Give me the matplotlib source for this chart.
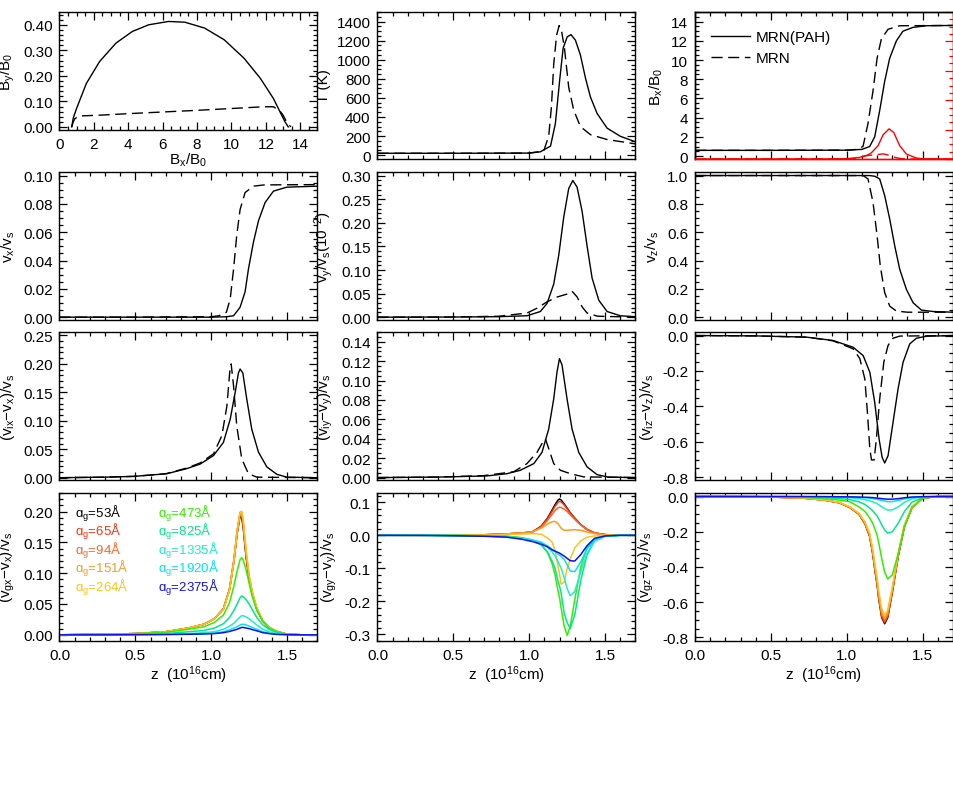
import matplotlib
matplotlib.use("Agg")
import matplotlib.pyplot as plt
from matplotlib.ticker import MultipleLocator, FormatStrFormatter, NullFormatter

plt.rcParams['font.family'] = ['Liberation Sans', 'DejaVu Sans']
plt.rcParams['mathtext.fontset'] = 'custom'
plt.rcParams['mathtext.rm'] = 'Liberation Sans'
plt.rcParams['mathtext.it'] = 'Liberation Sans:italic'
plt.rcParams['mathtext.bf'] = 'Liberation Sans:bold'
plt.rcParams['font.size'] = 11

# ---------------- data ----------------
# top-left: By/B0 vs Bx/B0
bx_pah = [0.71, 0.80, 0.99, 1.56, 2.33, 3.28, 4.24, 5.19, 6.34, 7.29, 8.44, 9.58, 10.73, 11.68, 12.44, 12.82, 13.11, 13.30]
by_pah = [0.0, 0.035, 0.072, 0.17, 0.256, 0.328, 0.374, 0.40, 0.413, 0.41, 0.387, 0.341, 0.269, 0.19, 0.111, 0.059, 0.02, 0.0]
bx_mrn = [0.71, 0.80, 0.90, 1.18, 2.33, 4.0, 6.15, 8.0, 9.96, 11.87, 12.44, 12.82, 13.0, 13.2, 13.45]
by_mrn = [0.0, 0.02, 0.033, 0.043, 0.046, 0.052, 0.059, 0.065, 0.072, 0.079, 0.079, 0.062, 0.046, 0.02, 0.0]

# temperature
zT_pah = [0, 0.5, 1.0, 1.073, 1.14, 1.172, 1.2, 1.223, 1.25, 1.275, 1.304, 1.337, 1.37, 1.403, 1.447, 1.513, 1.6, 1.7]
T_pah = [20, 20, 22, 35, 95, 330, 780, 1120, 1240, 1263, 1205, 1050, 810, 610, 437, 283, 198, 140]
zT_mrn = [0, 0.5, 1.0, 1.095, 1.128, 1.146, 1.161, 1.18, 1.197, 1.214, 1.232, 1.26, 1.293, 1.337, 1.403, 1.513, 1.7]
T_mrn = [20, 20, 22, 44, 198, 505, 950, 1256, 1358, 1290, 1120, 710, 471, 300, 215, 164, 118]

# Bx/B0 (black) and By/B0 (red, right axis)
zB_pah = [0, 0.5, 1.0, 1.1, 1.151, 1.184, 1.217, 1.25, 1.283, 1.327, 1.37, 1.436, 1.524, 1.7]
B_pah = [0.6, 0.6, 0.62, 0.7, 1.0, 2.0, 4.75, 7.8, 10.2, 12.0, 13.0, 13.4, 13.57, 13.6]
zB_mrn = [0, 0.5, 1.0, 1.07, 1.107, 1.14, 1.173, 1.2, 1.228, 1.272, 1.349, 1.7]
B_mrn = [0.6, 0.6, 0.62, 0.7, 1.0, 3.4, 6.8, 10.2, 12.2, 13.2, 13.57, 13.6]
zBy_pah = [0, 0.9, 1.0, 1.08, 1.129, 1.16, 1.206, 1.24, 1.279, 1.31, 1.349, 1.393, 1.458, 1.5, 1.7]
By_pah = [0, 0.001, 0.005, 0.02, 0.045, 0.08, 0.18, 0.33, 0.41, 0.36, 0.18, 0.067, 0.013, 0.003, 0]
zBy_mrn = [0, 1.0, 1.08, 1.12, 1.18, 1.24, 1.28, 1.32, 1.36, 1.4, 1.7]
By_mrn = [0, 0.002, 0.01, 0.045, 0.055, 0.07, 0.05, 0.02, 0.005, 0, 0]

# neutral velocities
zvx_pah = [0, 0.5, 1.0, 1.1, 1.147, 1.19, 1.223, 1.245, 1.278, 1.311, 1.355, 1.41, 1.498, 1.7]
vx_pah = [0, 0, 0, 0.0003, 0.001, 0.007, 0.018, 0.034, 0.053, 0.068, 0.081, 0.089, 0.0918, 0.0925]
zvx_mrn = [0, 0.5, 1.0, 1.05, 1.1, 1.125, 1.147, 1.168, 1.19, 1.223, 1.278, 1.35, 1.7]
vx_mrn = [0, 0, 0.0003, 0.001, 0.0035, 0.013, 0.034, 0.058, 0.076, 0.088, 0.0925, 0.0934, 0.0936]

zvy_pah = [0, 0.5, 0.8, 0.985, 1.073, 1.117, 1.161, 1.194, 1.227, 1.26, 1.287, 1.315, 1.348, 1.381, 1.414, 1.458, 1.513, 1.6, 1.7]
vy_pah = [0, 0.0003, 0.001, 0.003, 0.012, 0.029, 0.07, 0.131, 0.212, 0.273, 0.29, 0.276, 0.225, 0.151, 0.083, 0.036, 0.012, 0.003, 0.001]
zvy_mrn = [0, 0.5, 0.8, 0.985, 1.051, 1.117, 1.183, 1.249, 1.282, 1.315, 1.348, 1.381, 1.45, 1.7]
vy_mrn = [0, 0.0003, 0.002, 0.0088, 0.019, 0.0325, 0.0427, 0.049, 0.055, 0.043, 0.022, 0.0088, 0.002, 0]

zvz_pah = [0, 1.0, 1.15, 1.184, 1.217, 1.25, 1.283, 1.316, 1.349, 1.393, 1.437, 1.492, 1.568, 1.7]
vz_pah = [1.0, 1.0, 1.0, 0.995, 0.976, 0.858, 0.693, 0.504, 0.338, 0.196, 0.102, 0.05, 0.04, 0.035]
zvz_mrn = [0, 1.0, 1.108, 1.14, 1.173, 1.2, 1.221, 1.25, 1.283, 1.327, 1.4, 1.7]
vz_mrn = [1.0, 1.0, 1.0, 0.976, 0.81, 0.574, 0.36, 0.173, 0.078, 0.043, 0.035, 0.035]

# ion-neutral drift
zvix_pah = [0, 0.3, 0.488, 0.707, 0.839, 0.927, 1.015, 1.08, 1.125, 1.157, 1.179, 1.19, 1.208, 1.234, 1.267, 1.311, 1.366, 1.432, 1.498, 1.7]
vix_pah = [0, 0.001, 0.0023, 0.007, 0.016, 0.024, 0.039, 0.062, 0.103, 0.149, 0.184, 0.191, 0.184, 0.138, 0.085, 0.045, 0.019, 0.006, 0.001, 0]
zvix_mrn = [0, 0.3, 0.5, 0.7, 0.839, 0.927, 1.015, 1.07, 1.103, 1.125, 1.131, 1.147, 1.168, 1.201, 1.245, 1.3, 1.7]
vix_mrn = [0, 0.001, 0.0025, 0.007, 0.017, 0.026, 0.042, 0.074, 0.126, 0.196, 0.2, 0.161, 0.091, 0.033, 0.007, 0.001, 0]

zviy_pah = [0, 0.4, 0.721, 0.853, 0.941, 1.03, 1.084, 1.128, 1.161, 1.183, 1.199, 1.216, 1.249, 1.282, 1.326, 1.381, 1.447, 1.52, 1.7]
viy_pah = [0, 0.0005, 0.0017, 0.004, 0.0075, 0.0144, 0.026, 0.05, 0.081, 0.109, 0.1225, 0.116, 0.081, 0.05, 0.026, 0.011, 0.003, 0.0005, 0]
zviy_mrn = [0, 0.4, 0.7, 0.897, 0.985, 1.051, 1.095, 1.106, 1.128, 1.161, 1.205, 1.271, 1.359, 1.7]
viy_mrn = [0, 0.0005, 0.002, 0.006, 0.0144, 0.026, 0.038, 0.040, 0.03, 0.0144, 0.0075, 0.004, 0.0007, 0]

zviz_pah = [0, 0.4, 0.735, 0.91, 1.042, 1.108, 1.152, 1.184, 1.213, 1.233, 1.25, 1.272, 1.305, 1.338, 1.371, 1.415, 1.459, 1.524, 1.7]
viz_pah = [0, -0.002, -0.009, -0.028, -0.066, -0.113, -0.207, -0.376, -0.584, -0.687, -0.719, -0.678, -0.489, -0.301, -0.151, -0.047, -0.015, -0.004, 0]
zviz_mrn = [0, 0.4, 0.735, 0.91, 1.042, 1.086, 1.119, 1.136, 1.152, 1.163, 1.18, 1.195, 1.217, 1.244, 1.272, 1.305, 1.35, 1.7]
viz_mrn = [0, -0.002, -0.009, -0.03, -0.075, -0.13, -0.245, -0.433, -0.64, -0.702, -0.702, -0.584, -0.358, -0.151, -0.056, -0.015, -0.003, 0]

# grain-neutral drift (common z grid)
grain_sizes = ["53", "65", "94", "151", "264", "473", "825", "1335", "1920", "2375"]
zg = [0.0, 0.3, 0.5, 0.7, 0.85, 0.95, 1.02, 1.08, 1.12, 1.15, 1.17, 1.19, 1.2, 1.21, 1.23, 1.25, 1.27, 1.3, 1.34, 1.38, 1.43, 1.5, 1.6, 1.7]

vgx_53 = [0, 0.001, 0.002, 0.005, 0.011, 0.017, 0.026, 0.042, 0.073, 0.12, 0.163, 0.193, 0.19, 0.175, 0.125, 0.09, 0.067, 0.041, 0.022, 0.012, 0.0055, 0.001, 0, 0]
vgx_65 = [0, 0.001, 0.002, 0.005, 0.011, 0.017, 0.026, 0.042, 0.074, 0.122, 0.166, 0.196, 0.194, 0.178, 0.127, 0.091, 0.068, 0.042, 0.022, 0.012, 0.0055, 0.001, 0, 0]
vgx_94 = [0, 0.001, 0.002, 0.005, 0.011, 0.017, 0.026, 0.042, 0.074, 0.123, 0.168, 0.198, 0.197, 0.181, 0.129, 0.092, 0.068, 0.042, 0.022, 0.012, 0.0055, 0.001, 0, 0]
vgx_151 = [0, 0.001, 0.002, 0.005, 0.011, 0.017, 0.026, 0.042, 0.074, 0.123, 0.169, 0.199, 0.2, 0.185, 0.132, 0.094, 0.069, 0.043, 0.023, 0.012, 0.0055, 0.001, 0, 0]
vgx_264 = [0, 0.001, 0.002, 0.005, 0.011, 0.017, 0.026, 0.041, 0.072, 0.12, 0.166, 0.197, 0.2, 0.188, 0.137, 0.097, 0.071, 0.044, 0.023, 0.012, 0.0055, 0.001, 0, 0]
vgx_473 = [0, 0.001, 0.002, 0.004, 0.009, 0.013, 0.02, 0.032, 0.052, 0.08, 0.103, 0.122, 0.125, 0.122, 0.105, 0.083, 0.062, 0.04, 0.022, 0.011, 0.005, 0.001, 0, 0]
vgx_825 = [0, 0.0005, 0.001, 0.002, 0.005, 0.007, 0.011, 0.018, 0.028, 0.04, 0.05, 0.06, 0.063, 0.062, 0.057, 0.05, 0.041, 0.028, 0.016, 0.009, 0.004, 0.001, 0, 0]
vgx_1335 = [0, 0, 0.0005, 0.001, 0.002, 0.0035, 0.005, 0.009, 0.014, 0.019, 0.024, 0.029, 0.031, 0.031, 0.029, 0.026, 0.022, 0.016, 0.009, 0.005, 0.002, 0.0005, 0, 0]
vgx_1920 = [0, 0, 0.0003, 0.0007, 0.0012, 0.002, 0.003, 0.005, 0.008, 0.011, 0.013, 0.016, 0.017, 0.017, 0.016, 0.014, 0.012, 0.009, 0.005, 0.003, 0.001, 0.0003, 0, 0]
vgx_2375 = [0, 0, 0.0002, 0.0005, 0.0009, 0.0014, 0.002, 0.0035, 0.0055, 0.0075, 0.009, 0.011, 0.012, 0.012, 0.011, 0.01, 0.0085, 0.0065, 0.0035, 0.002, 0.0007, 0.0002, 0, 0]

vgy_53 = [0, 0, 0.0005, 0.0015, 0.004, 0.007, 0.01, 0.028, 0.052, 0.076, 0.093, 0.107, 0.11, 0.107, 0.095, 0.082, 0.068, 0.052, 0.032, 0.018, 0.007, 0.002, 0, 0]
vgy_65 = [0, 0, 0.0005, 0.0015, 0.004, 0.007, 0.01, 0.027, 0.05, 0.072, 0.088, 0.1, 0.103, 0.101, 0.092, 0.08, 0.067, 0.051, 0.032, 0.018, 0.007, 0.002, 0, 0]
vgy_94 = [0, 0, 0.0005, 0.0015, 0.004, 0.007, 0.01, 0.025, 0.045, 0.063, 0.075, 0.083, 0.085, 0.084, 0.079, 0.072, 0.062, 0.048, 0.031, 0.017, 0.007, 0.002, 0, 0]
vgy_151 = [0, 0, 0.0005, 0.0015, 0.004, 0.007, 0.01, 0.022, 0.034, 0.041, 0.042, 0.035, 0.028, 0.021, 0.015, 0.015, 0.016, 0.017, 0.015, 0.01, 0.005, 0.001, 0, 0]
vgy_264 = [0, 0, 0, 0.0005, 0.002, 0.004, 0.005, 0.003, -0.008, -0.02, -0.045, -0.095, -0.118, -0.148, -0.142, -0.1, -0.072, -0.038, -0.017, -0.006, -0.002, 0, 0, 0]
vgy_473 = [0, 0, -0.0005, -0.0012, -0.0025, -0.007, -0.014, -0.029, -0.052, -0.085, -0.12, -0.17, -0.19, -0.22, -0.275, -0.303, -0.275, -0.195, -0.095, -0.038, -0.013, -0.002, 0, 0]
vgy_825 = [0, 0, -0.0005, -0.0015, -0.004, -0.008, -0.015, -0.03, -0.05, -0.078, -0.1, -0.14, -0.155, -0.175, -0.235, -0.265, -0.282, -0.24, -0.135, -0.06, -0.017, -0.003, 0, 0]
vgy_1335 = [0, 0, -0.001, -0.002, -0.005, -0.009, -0.014, -0.021, -0.035, -0.05, -0.062, -0.08, -0.09, -0.1, -0.128, -0.162, -0.183, -0.17, -0.11, -0.055, -0.017, -0.003, 0, 0]
vgy_1920 = [0, 0, -0.001, -0.002, -0.006, -0.01, -0.015, -0.022, -0.032, -0.042, -0.05, -0.057, -0.06, -0.064, -0.073, -0.09, -0.108, -0.11, -0.08, -0.042, -0.014, -0.003, 0, 0]
vgy_2375 = [0, -0.0005, -0.0015, -0.003, -0.0055, -0.012, -0.019, -0.027, -0.035, -0.044, -0.048, -0.052, -0.054, -0.057, -0.063, -0.07, -0.077, -0.078, -0.058, -0.032, -0.009, -0.002, 0, 0]

vgz_53 = [0, -0.001, -0.003, -0.008, -0.02, -0.035, -0.062, -0.1, -0.155, -0.223, -0.32, -0.445, -0.5, -0.575, -0.687, -0.722, -0.687, -0.545, -0.335, -0.17, -0.062, -0.009, 0, 0]
vgz_65 = [0, -0.001, -0.003, -0.008, -0.02, -0.035, -0.062, -0.1, -0.154, -0.221, -0.315, -0.44, -0.495, -0.569, -0.68, -0.714, -0.68, -0.54, -0.332, -0.168, -0.061, -0.009, 0, 0]
vgz_94 = [0, -0.001, -0.003, -0.008, -0.02, -0.035, -0.061, -0.099, -0.152, -0.218, -0.31, -0.434, -0.489, -0.562, -0.671, -0.705, -0.672, -0.534, -0.328, -0.166, -0.06, -0.009, 0, 0]
vgz_151 = [0, -0.001, -0.003, -0.008, -0.02, -0.034, -0.06, -0.097, -0.149, -0.213, -0.303, -0.424, -0.478, -0.55, -0.657, -0.69, -0.658, -0.523, -0.322, -0.163, -0.059, -0.009, 0, 0]
vgz_264 = [0, -0.001, -0.003, -0.008, -0.019, -0.033, -0.058, -0.094, -0.144, -0.206, -0.294, -0.41, -0.462, -0.532, -0.635, -0.672, -0.645, -0.515, -0.318, -0.161, -0.058, -0.009, 0, 0]
vgz_473 = [0, 0, -0.002, -0.005, -0.011, -0.02, -0.03, -0.058, -0.085, -0.12, -0.15, -0.195, -0.22, -0.26, -0.35, -0.43, -0.468, -0.445, -0.32, -0.17, -0.065, -0.009, 0, 0]
vgz_825 = [0, 0, -0.001, -0.003, -0.006, -0.011, -0.018, -0.03, -0.045, -0.065, -0.08, -0.1, -0.11, -0.125, -0.16, -0.19, -0.208, -0.2, -0.15, -0.085, -0.032, -0.006, 0, 0]
vgz_1335 = [0, 0, -0.0005, -0.001, -0.002, -0.004, -0.007, -0.012, -0.018, -0.025, -0.03, -0.037, -0.041, -0.046, -0.058, -0.069, -0.077, -0.076, -0.058, -0.033, -0.012, -0.002, 0, 0]
vgz_1920 = [0, 0, 0, -0.0005, -0.001, -0.002, -0.003, -0.005, -0.007, -0.009, -0.011, -0.014, -0.016, -0.018, -0.022, -0.026, -0.029, -0.029, -0.022, -0.013, -0.005, -0.001, 0, 0]
vgz_2375 = [0, 0, 0, -0.0003, -0.0007, -0.0015, -0.002, -0.003, -0.004, -0.005, -0.006, -0.008, -0.009, -0.01, -0.012, -0.014, -0.015, -0.015, -0.012, -0.007, -0.003, -0.001, 0, 0]

vgx_all = [vgx_53, vgx_65, vgx_94, vgx_151, vgx_264, vgx_473, vgx_825, vgx_1335, vgx_1920, vgx_2375]
vgy_all = [vgy_53, vgy_65, vgy_94, vgy_151, vgy_264, vgy_473, vgy_825, vgy_1335, vgy_1920, vgy_2375]
vgz_all = [vgz_53, vgz_65, vgz_94, vgz_151, vgz_264, vgz_473, vgz_825, vgz_1335, vgz_1920, vgz_2375]

# ---------------- styling ----------------
grain_colors = ['#000000', '#ff3010', '#ff6420', '#ff9a1a', '#ffc21a',
                '#33ee00', '#00e88a', '#19f0c8', '#00e0ff', '#1010e6']
LW = 1.0
DASH = (0, (8, 4))

W, H = 954, 803
fig = plt.figure(figsize=(W / 100, H / 100), dpi=100)


def add(l, t, r, b):
    return fig.add_axes([l / W, 1 - b / H, (r - l) / W, (b - t) / H])


def style(ax, xmaj, xmin, ymaj, ymin, yfmt, xlabels=False, xfmt='%.1f', right=True):
    ax.xaxis.set_major_locator(MultipleLocator(xmaj))
    ax.xaxis.set_minor_locator(MultipleLocator(xmin))
    ax.yaxis.set_major_locator(MultipleLocator(ymaj))
    ax.yaxis.set_minor_locator(MultipleLocator(ymin))
    ax.yaxis.set_major_formatter(FormatStrFormatter(yfmt))
    if xlabels:
        ax.xaxis.set_major_formatter(FormatStrFormatter(xfmt))
    else:
        ax.xaxis.set_major_formatter(NullFormatter())
    ax.tick_params(which='both', direction='in', top=True, right=right, width=0.9)
    ax.tick_params(which='major', length=6, pad=5)
    ax.tick_params(which='minor', length=3)
    for sp in ax.spines.values():
        sp.set_linewidth(1.0)


C1, C2, C3 = (59.5, 317.5), (377.5, 635.5), (695, 953)
R1, R2, R3, R4 = (13, 160), (173, 321), (333, 481), (494, 642)
ZLAB = r"z  (10$^{16}$cm)"

# --- row 1 ---
ax = add(C1[0], 13, C1[1], 131)
ax.plot(bx_pah, by_pah, color='k', lw=LW)
ax.plot(bx_mrn, by_mrn, color='k', lw=LW, linestyle=DASH)
ax.set_xlim(0, 15)
ax.set_ylim(-0.012, 0.45)
style(ax, 2, 0.5, 0.1, 0.02, '%.2f', xlabels=True, xfmt='%d')
ax.set_xlabel(r"B$_{\rm x}$/B$_0$", labelpad=0)
ax.set_ylabel(r"B$_{\rm y}$/B$_0$")

ax = add(C2[0], R1[0], C2[1], R1[1])
ax.plot(zT_pah, T_pah, color='k', lw=LW)
ax.plot(zT_mrn, T_mrn, color='k', lw=LW, linestyle=DASH)
ax.set_xlim(0, 1.7)
ax.set_ylim(-40, 1500)
style(ax, 0.5, 0.1, 200, 50, '%d')
ax.set_ylabel("T (K)")

ax = add(C3[0], R1[0], C3[1], R1[1])
ax.plot(zB_pah, B_pah, color='k', lw=LW, label='MRN(PAH)')
ax.plot(zB_mrn, B_mrn, color='k', lw=LW, linestyle=DASH, label='MRN')
ax.set_xlim(0, 1.7)
ax.set_ylim(-0.3, 15)
style(ax, 0.5, 0.1, 2, 0.5, '%d', right=False)
ax.set_ylabel(r"B$_{\rm x}$/B$_0$")
ax.legend(loc='upper left', bbox_to_anchor=(0.025, 0.94), frameon=False,
          handlelength=2.6, handletextpad=0.35, labelspacing=0.45, borderaxespad=0.2)
axr = ax.twinx()
axr.plot(zBy_pah, By_pah, color='red', lw=LW)
axr.plot(zBy_mrn, By_mrn, color='red', lw=LW, linestyle=DASH)
axr.set_ylim(0, 2)
axr.yaxis.set_major_locator(MultipleLocator(0.4))
axr.yaxis.set_minor_locator(MultipleLocator(0.1))
axr.tick_params(which='both', direction='in', colors='red', labelright=False, width=0.9)
axr.tick_params(which='major', length=6)
axr.tick_params(which='minor', length=3)
for a in (ax, axr):
    a.spines['right'].set_color('red')
    a.spines['bottom'].set_color('red')
for sp in axr.spines.values():
    sp.set_linewidth(1.0)

# --- row 2 ---
ax = add(C1[0], R2[0], C1[1], R2[1])
ax.plot(zvx_pah, vx_pah, color='k', lw=LW)
ax.plot(zvx_mrn, vx_mrn, color='k', lw=LW, linestyle=DASH)
ax.set_xlim(0, 1.7)
ax.set_ylim(-0.002, 0.1025)
style(ax, 0.5, 0.1, 0.02, 0.005, '%.2f')
ax.set_ylabel(r"v$_{\rm x}$/v$_{\rm s}$")

ax = add(C2[0], R2[0], C2[1], R2[1])
ax.plot(zvy_pah, vy_pah, color='k', lw=LW)
ax.plot(zvy_mrn, vy_mrn, color='k', lw=LW, linestyle=DASH)
ax.set_xlim(0, 1.7)
ax.set_ylim(-0.006, 0.308)
style(ax, 0.5, 0.1, 0.05, 0.01, '%.2f')
ax.set_ylabel(r"v$_{\rm y}$/v$_{\rm s}$(10$^{-2}$)")

ax = add(C3[0], R2[0], C3[1], R2[1])
ax.plot(zvz_pah, vz_pah, color='k', lw=LW)
ax.plot(zvz_mrn, vz_mrn, color='k', lw=LW, linestyle=DASH)
ax.set_xlim(0, 1.7)
ax.set_ylim(-0.02, 1.025)
style(ax, 0.5, 0.1, 0.2, 0.05, '%.1f')
ax.set_ylabel(r"v$_{\rm z}$/v$_{\rm s}$")

# --- row 3 ---
ax = add(C1[0], R3[0], C1[1], R3[1])
ax.plot(zvix_pah, vix_pah, color='k', lw=LW)
ax.plot(zvix_mrn, vix_mrn, color='k', lw=LW, linestyle=DASH)
ax.set_xlim(0, 1.7)
ax.set_ylim(-0.004, 0.256)
style(ax, 0.5, 0.1, 0.05, 0.01, '%.2f')
ax.set_ylabel(r"(v$_{\rm ix}$−v$_{\rm x}$)/v$_{\rm s}$")

ax = add(C2[0], R3[0], C2[1], R3[1])
ax.plot(zviy_pah, viy_pah, color='k', lw=LW)
ax.plot(zviy_mrn, viy_mrn, color='k', lw=LW, linestyle=DASH)
ax.set_xlim(0, 1.7)
ax.set_ylim(-0.0025, 0.15)
style(ax, 0.5, 0.1, 0.02, 0.005, '%.2f')
ax.set_ylabel(r"(v$_{\rm iy}$−v$_{\rm y}$)/v$_{\rm s}$")

ax = add(C3[0], R3[0], C3[1], R3[1])
ax.plot(zviz_pah, viz_pah, color='k', lw=LW)
ax.plot(zviz_mrn, viz_mrn, color='k', lw=LW, linestyle=DASH)
ax.set_xlim(0, 1.7)
ax.set_ylim(-0.815, 0.02)
style(ax, 0.5, 0.1, 0.2, 0.05, '%.1f')
ax.set_ylabel(r"(v$_{\rm iz}$−v$_{\rm z}$)/v$_{\rm s}$")

# --- row 4 ---
ax = add(C1[0], R4[0], C1[1], R4[1])
for vals, c in zip(vgx_all, grain_colors):
    ax.plot(zg, vals, color=c, lw=1.1)
ax.set_xlim(0, 1.7)
ax.set_ylim(-0.01, 0.23)
style(ax, 0.5, 0.1, 0.05, 0.01, '%.2f', xlabels=True)
ax.set_ylabel(r"(v$_{\rm gx}$−v$_{\rm x}$)/v$_{\rm s}$")
ax.set_xlabel(ZLAB, labelpad=1)
for i, (s, c) in enumerate(zip(grain_sizes, grain_colors)):
    col, row = divmod(i, 5)
    ax.text(0.06 + col * 0.32, 0.865 - row * 0.125, "ɑ$_{\\rm g}$=" + s + "Å",
            transform=ax.transAxes, color=c, fontsize=9.5, va='center', ha='left')

ax = add(C2[0], R4[0], C2[1], R4[1])
for vals, c in zip(vgy_all, grain_colors):
    ax.plot(zg, vals, color=c, lw=1.1)
ax.set_xlim(0, 1.7)
ax.set_ylim(-0.32, 0.128)
style(ax, 0.5, 0.1, 0.1, 0.02, '%.1f', xlabels=True)
ax.set_ylabel(r"(v$_{\rm gy}$−v$_{\rm y}$)/v$_{\rm s}$")
ax.set_xlabel(ZLAB, labelpad=1)

ax = add(C3[0], R4[0], C3[1], R4[1])
for vals, c in zip(vgz_all, grain_colors):
    ax.plot(zg, vals, color=c, lw=1.1)
ax.set_xlim(0, 1.7)
ax.set_ylim(-0.82, 0.02)
style(ax, 0.5, 0.1, 0.2, 0.05, '%.1f', xlabels=True)
ax.set_ylabel(r"(v$_{\rm gz}$−v$_{\rm z}$)/v$_{\rm s}$")
ax.set_xlabel(ZLAB, labelpad=1)

fig.savefig("out.png", dpi=100)
